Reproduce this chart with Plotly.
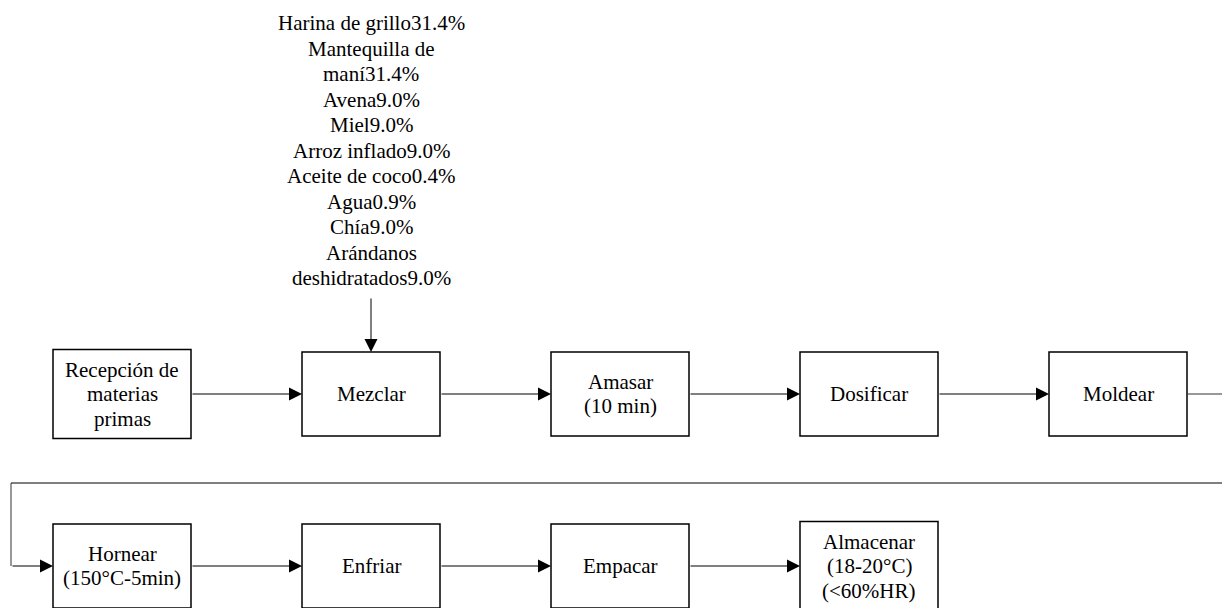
import textwrap
import plotly.graph_objects as go

# ---------------- data ----------------
row1_steps = ["Recepción de\nmaterias\nprimas", "Mezclar", "Amasar\n(10 min)", "Dosificar", "Moldear"]
row2_steps = ["Hornear\n(150°C-5min)", "Enfriar", "Empacar", "Almacenar\n(18-20°C)\n(<60%HR)"]
ingredients = ["Harina de grillo", "Mantequilla de maní", "Avena", "Miel", "Arroz inflado",
               "Aceite de coco", "Agua", "Chía", "Arándanos deshidratados"]
percentages = [31.4, 31.4, 9.0, 9.0, 9.0, 0.4, 0.9, 9.0, 9.0]

# ---------------- layout parameters ----------------
W, H = 1222, 608
FONT = dict(family="Liberation Serif", size=21, color="black")
BOX_X0 = 53
BOX_STEP = 249
BOX_W = 138
ROW_Y = [394, 566]
BOX_H = {1: 84, 2: 84, 3: 89}
LABEL_SPACING = 24.5
TOP_SPACING = 25.5
TOP_FIRST_Y = 23
LINE_COLOR = "#333333"

shapes = []
annotations = []


def add_text(cx, cy, lines, spacing):
    n = len(lines)
    for i, line in enumerate(lines):
        annotations.append(dict(x=cx, y=cy + (i - (n - 1) / 2) * spacing, xref="x", yref="y",
                                text=line, showarrow=False, xanchor="center", yanchor="middle",
                                font=FONT))


def add_arrow(x0, y0, x1, y1):
    annotations.append(dict(x=x1, y=y1, ax=x0, ay=y0, xref="x", yref="y", axref="x", ayref="y",
                            text="", showarrow=True, arrowhead=2, arrowsize=2.6, arrowwidth=1,
                            arrowcolor="black", standoff=0, startstandoff=0))


def add_line(x0, y0, x1, y1, color=LINE_COLOR, width=1):
    shapes.append(dict(type="line", xref="x", yref="y", x0=x0, y0=y0, x1=x1, y1=y1,
                       line=dict(color=color, width=width)))


boxes = []  # (left, right, cy, row)
for r, steps in enumerate([row1_steps, row2_steps]):
    cy = ROW_Y[r]
    for i, label in enumerate(steps):
        lines = label.split("\n")
        h = BOX_H[len(lines)]
        left = BOX_X0 + i * BOX_STEP
        right = left + BOX_W
        shapes.append(dict(type="rect", xref="x", yref="y", x0=left, x1=right,
                           y0=cy - h / 2, y1=cy + h / 2,
                           line=dict(color="black", width=1.5), fillcolor="white"))
        add_text((left + right) / 2, cy, lines, LABEL_SPACING)
        boxes.append((left, right, cy, r))
        if i > 0:
            add_arrow(left - BOX_STEP + BOX_W, cy, left, cy)

# connector from end of row 1 to start of row 2
last1 = [b for b in boxes if b[3] == 0][-1]
first2 = [b for b in boxes if b[3] == 1][0]
loop_y = (ROW_Y[0] + ROW_Y[1]) / 2 + 3
loop_x = 11
add_line(last1[1], last1[2], W, last1[2])
add_line(loop_x, loop_y, W, loop_y, color="black")
add_line(loop_x, loop_y, loop_x, first2[2])
add_arrow(loop_x, first2[2], first2[0], first2[2])

# ingredient text above "Mezclar"
ing_lines = []
for name, pct in zip(ingredients, percentages):
    ing_lines += textwrap.wrap(f"{name}{pct:.1f}%", 22)
mez = boxes[1]
mez_cx = (mez[0] + mez[1]) / 2
for i, line in enumerate(ing_lines):
    annotations.append(dict(x=mez_cx, y=TOP_FIRST_Y + i * TOP_SPACING, xref="x", yref="y",
                            text=line, showarrow=False, xanchor="center", yanchor="middle",
                            font=FONT))
text_bottom = TOP_FIRST_Y + (len(ing_lines) - 1) * TOP_SPACING + 19
add_arrow(mez_cx, text_bottom, mez_cx, mez[2] - BOX_H[1] / 2)

fig = go.Figure()
fig.update_layout(
    width=W, height=H,
    margin=dict(l=0, r=0, t=0, b=0),
    paper_bgcolor="white", plot_bgcolor="white",
    xaxis=dict(range=[0, W], visible=False, fixedrange=True),
    yaxis=dict(range=[H, 0], visible=False, fixedrange=True),
    shapes=shapes, annotations=annotations, showlegend=False,
)
fig.write_html("out.html", post_script="document.body.style.margin='0';",
               config={"displayModeBar": False})
